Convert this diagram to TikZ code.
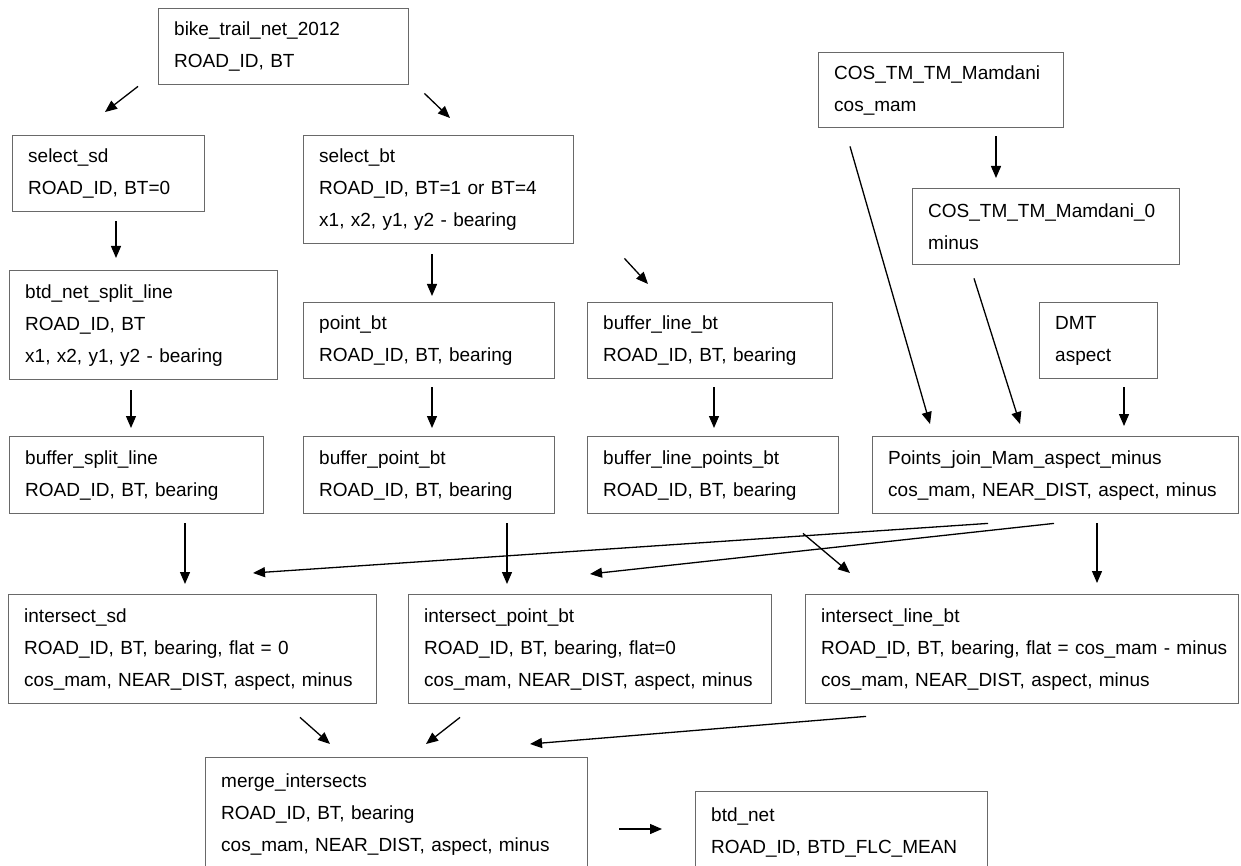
\documentclass[tikz,border=0pt]{standalone}
\usepackage{fontspec}
\setmainfont{Liberation Sans}
\usetikzlibrary{arrows.meta}
\definecolor{boxgray}{RGB}{105,105,105}

\tikzset{
	box/.style={draw=boxgray, line width=1.4pt, anchor=north west, align=left,
		inner xsep=15.5pt, inner ysep=0pt, font=\fontsize{19}{32}\selectfont},
	arr/.style={-{Triangle[length=12pt,width=10pt]}, line width=1.3pt}
}

\begin{document}
\begin{tikzpicture}[x=1pt,y=-1pt]
	\useasboundingbox (0,0) rectangle (1241,866);
	\clip (0,0) rectangle (1241,866);
	% first rows
	\node[box, text width=219pt, minimum height=76pt] (bike) at (158,8)
	{bike\_trail\_net\_2012\\ROAD\_ID, BT};
	\node[box, text width=161pt, minimum height=76pt] (selsd) at (12,135)
	{select\_sd\\ROAD\_ID, BT=0};
	\node[box, text width=239pt, minimum height=108pt] (selbt) at (303,135)
	{select\_bt\\ROAD\_ID, BT=1 or BT=4\\x1, x2, y1, y2 - bearing};
	\node[box, text width=214pt, minimum height=75pt] (cosmam) at (818,52)
	{COS\_TM\_TM\_Mamdani\\cos\_mam};
	\node[box, text width=236pt, minimum height=76pt] (cosmamzero) at (912,188)
	{COS\_TM\_TM\_Mamdani\_0\\minus};
	
	\node[box, text width=237pt, minimum height=109pt] (splitline) at (9,270)
	{btd\_net\_split\_line\\ROAD\_ID, BT\\x1, x2, y1, y2 - bearing};
	\node[box, text width=220pt, minimum height=76pt] (pointbt) at (303,302)
	{point\_bt\\ROAD\_ID, BT, bearing};
	\node[box, text width=214pt, minimum height=76pt] (bufline) at (587,302)
	{buffer\_line\_bt\\ROAD\_ID, BT, bearing};
	\node[box, text width=87pt, minimum height=76pt] (dmt) at (1039,302)
	{DMT\\aspect};
	
	% buffers
	\node[box, text width=223pt, minimum height=77pt] (bufsplit) at (9,436)
	{buffer\_split\_line\\ROAD\_ID, BT, bearing};
	\node[box, text width=220pt, minimum height=77pt] (bufpoint) at (303,436)
	{buffer\_point\_bt\\ROAD\_ID, BT, bearing};
	\node[box, text width=220pt, minimum height=77pt] (buflinepts) at (587,436)
	{buffer\_line\_points\_bt\\ROAD\_ID, BT, bearing};
	\node[box, text width=335pt, minimum height=77pt] (pjoin) at (872,436)
	{Points\_join\_Mam\_aspect\_minus\\cos\_mam, NEAR\_DIST, aspect, minus};
	
	% intersects
	\node[box, text width=337pt, minimum height=109pt] (isd) at (8,594)
	{intersect\_sd\\ROAD\_ID, BT, bearing, flat = 0\\cos\_mam, NEAR\_DIST, aspect, minus};
	\node[box, text width=332pt, minimum height=109pt] (ipoint) at (408,594)
	{intersect\_point\_bt\\ROAD\_ID, BT, bearing, flat=0\\cos\_mam, NEAR\_DIST, aspect, minus};
	\node[box, text width=402pt, minimum height=109pt] (iline) at (805,594)
	{intersect\_line\_bt\\\mbox{ROAD\_ID, BT, bearing, flat = cos\_mam - minus}\\cos\_mam, NEAR\_DIST, aspect, minus};
	
	\node[box, text width=351pt, minimum height=114pt] (merge) at (205,757)
	{merge\_intersects\\ROAD\_ID, BT, bearing\\cos\_mam, NEAR\_DIST, aspect, minus};
	\node[box, text width=261pt, minimum height=82pt] (btdnet) at (695,791)
	{btd\_net\\ROAD\_ID, BTD\_FLC\_MEAN};
	
	% arrows
	\draw[arr] ([shift={(-20,1)}]bike.south west) -- ([shift={(93,-23)}]selsd.north west);
	\draw[arr] ([shift={(15,8)}]bike.south east) -- ([shift={(147,-17)}]selbt.north west);
	\draw[arr] ([shift={(104,9)}]selsd.south west) -- ([shift={(107,-12)}]splitline.north west);
	\draw[arr] ([shift={(129,10)}]selbt.south west) -- ([shift={(129,-6)}]pointbt.north west);
	\draw[arr] ([shift={(50,14)}]selbt.south east) -- ([shift={(61,-18)}]bufline.north west);
	\draw[arr] ([shift={(178,8)}]cosmam.south west) -- ([shift={(84,-10)}]cosmamzero.north west);
	\draw[arr] ([shift={(32,18)}]cosmam.south west) -- ([shift={(58,-12)}]pjoin.north west);
	\draw[arr] ([shift={(62,13)}]cosmamzero.south west) -- ([shift={(148,-12)}]pjoin.north west);
	\draw[arr] ([shift={(85,8)}]dmt.south west) -- ([shift={(252,-10)}]pjoin.north west);
	
	\draw[arr] ([shift={(122,10)}]splitline.south west) -- ([shift={(122,-8)}]bufsplit.north west);
	\draw[arr] ([shift={(129,8)}]pointbt.south west) -- ([shift={(129,-8)}]bufpoint.north west);
	\draw[arr] ([shift={(127,8)}]bufline.south west) -- ([shift={(127,-8)}]buflinepts.north west);
	
	\draw[arr] ([shift={(176,9)}]bufsplit.south west) -- ([shift={(177,-10)}]isd.north west);
	\draw[arr] ([shift={(204,9)}]bufpoint.south west) -- ([shift={(99,-10)}]ipoint.north west);
	\draw[arr] ([shift={(116,9)}]pjoin.south west) -- ([shift={(245,-21)}]isd.north west);
	\draw[arr] ([shift={(182,9)}]pjoin.south west) -- ([shift={(182,-20)}]ipoint.north west);
	\draw[arr] ([shift={(216,19)}]buflinepts.south west) -- ([shift={(45,-21)}]iline.north west);
	\draw[arr] ([shift={(225,9)}]pjoin.south west) -- ([shift={(292,-11)}]iline.north west);
	
	\draw[arr] ([shift={(292,13)}]isd.south west) -- ([shift={(125,-13)}]merge.north west);
	\draw[arr] ([shift={(52,13)}]ipoint.south west) -- ([shift={(221,-13)}]merge.north west);
	\draw[arr] ([shift={(61,12)}]iline.south west) -- ([shift={(325,-13)}]merge.north west);
	\draw[arr] ([shift={(31,72)}]merge.north east) -- ([shift={(-33,38)}]btdnet.north west);
\end{tikzpicture}
\end{document}
